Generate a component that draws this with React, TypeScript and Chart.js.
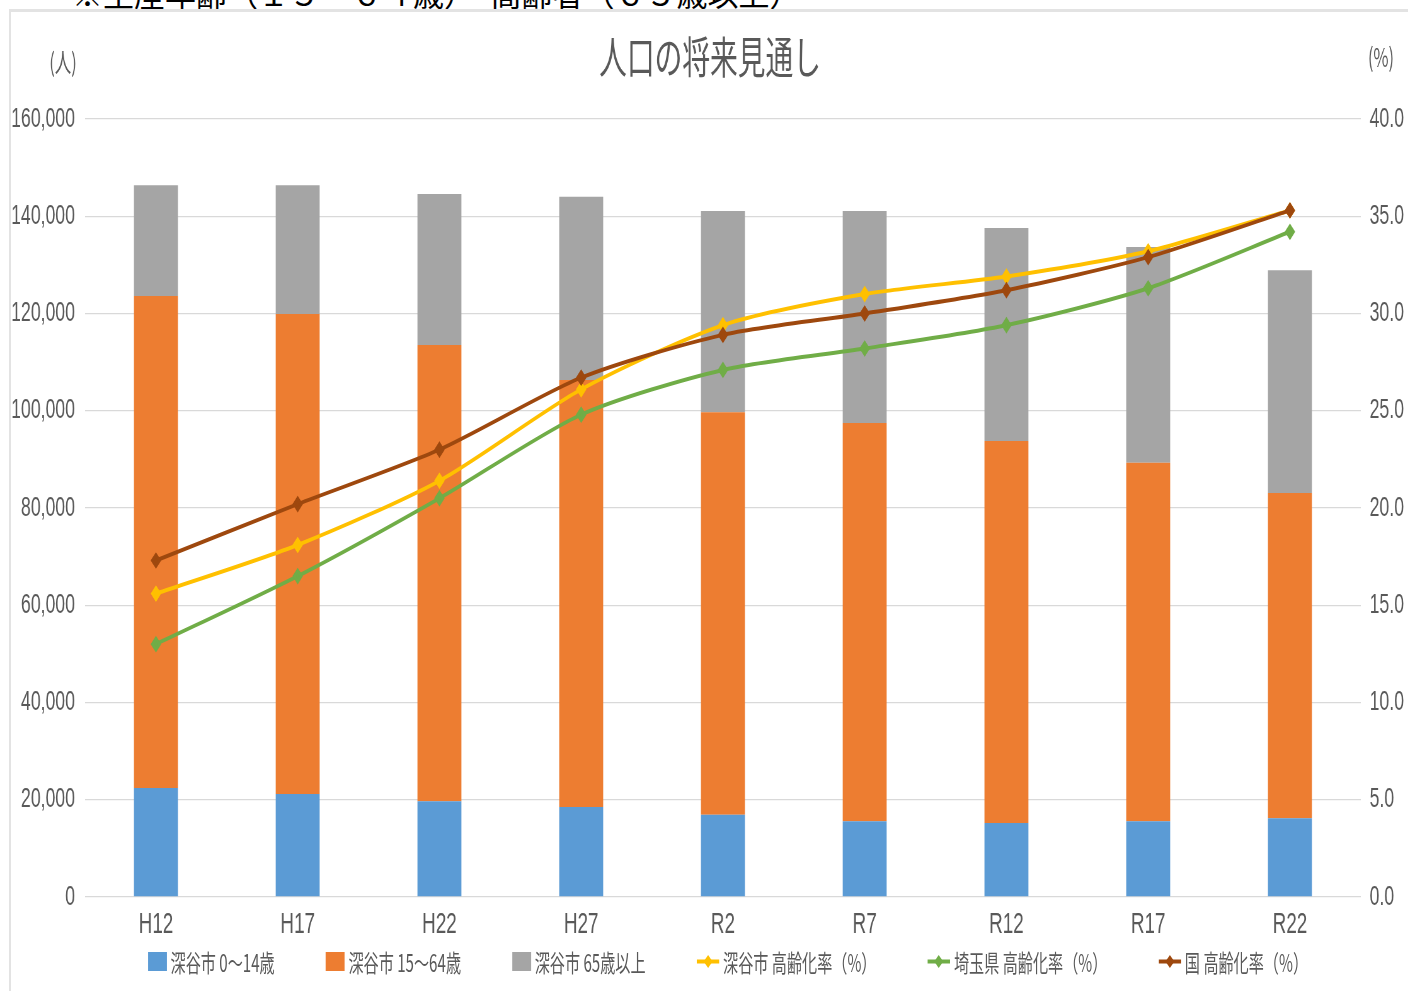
import React, { useEffect, useRef } from "react";
import { Chart, registerables } from "chart.js";

Chart.register(...registerables);

// ---- data ----
const categories = ["H12", "H17", "H22", "H27", "R2", "R7", "R12", "R17", "R22"];
const pop0to14 = [22400, 21200, 19700, 18500, 16900, 15600, 15200, 15600, 16200];
const pop15to64 = [101200, 98700, 93800, 87800, 82800, 81900, 78600, 73700, 66900];
const pop65plus = [22800, 26500, 31100, 37700, 41400, 43600, 43800, 44400, 45800];
const rateFukaya = [15.6, 18.1, 21.4, 26.1, 29.4, 31.0, 31.9, 33.2, 35.3];
const rateSaitama = [13.0, 16.5, 20.5, 24.8, 27.1, 28.2, 29.4, 31.3, 34.2];
const rateJapan = [17.3, 20.2, 23.0, 26.7, 28.9, 30.0, 31.2, 32.9, 35.3];
const seriesNames = [
  "深谷市 0〜14歳",
  "深谷市 15〜64歳",
  "深谷市 65歳以上",
  "深谷市 高齢化率（%）",
  "埼玉県 高齢化率（%）",
  "国 高齢化率（%）",
];
const seriesColors = ["#5B9BD5", "#ED7D31", "#A5A5A5", "#FFC000", "#70AD47", "#9E480E"];
const chartTitle = "人口の将来見通し";
const leftUnit = "(人)";
const rightUnit = "(%)";
const headerText = "※生産年齢（１５～６４歳）　高齢者（６５歳以上）";

// ---- layout ----
const SX = 0.63;
const PAGE_W = 1408;
const PAGE_H = 991;
const CW = Math.round(PAGE_W / SX);
const CH = 945;
const TEXT = "#595959";
const NUM_FONT = '"Liberation Sans", Arial, sans-serif';
const JP_FONT = '"Noto Sans CJK JP", "Noto Sans", sans-serif';

const annotPlugin = {
  id: "annot",
  afterDraw(chart: any) {
    const ctx = chart.ctx;
    ctx.save();
    ctx.fillStyle = TEXT;
    ctx.textAlign = "center";
    ctx.textBaseline = "middle";
    ctx.font = `44px ${JP_FONT}`;
    ctx.fillText(chartTitle, 710 / SX, 57);
    ctx.font = `26px ${JP_FONT}`;
    ctx.fillText(leftUnit, 63 / SX, 62);
    ctx.fillText(rightUnit, 1381 / SX, 57);
    ctx.restore();
  },
};

function LegendIcon({ idx }: { idx: number }) {
  const color = seriesColors[idx];
  if (idx < 3) {
    return <span style={{ display: "inline-block", width: 30, height: 19, background: color }} />;
  }
  return (
    <svg width={36} height={19} style={{ display: "block" }}>
      <line x1={0} y1={9.5} x2={36} y2={9.5} stroke={color} strokeWidth={4} />
      <polygon points="18,3 25,9.5 18,16 11,9.5" fill={color} />
    </svg>
  );
}

export default function App() {
  const canvasRef = useRef<HTMLCanvasElement | null>(null);

  useEffect(() => {
    if (!canvasRef.current) return;
    const lineDs = (i: number, data: number[], order: number) => ({
      type: "line" as const,
      label: seriesNames[i],
      data,
      borderColor: seriesColors[i],
      backgroundColor: seriesColors[i],
      borderWidth: 4,
      pointStyle: "rectRot",
      pointRadius: 5.5,
      pointHoverRadius: 5.5,
      tension: 0.25,
      yAxisID: "y1",
      order,
    });
    const barDs = (i: number, data: number[]) => ({
      type: "bar" as const,
      label: seriesNames[i],
      data,
      backgroundColor: seriesColors[i],
      borderWidth: 0,
      stack: "pop",
      yAxisID: "y",
      barPercentage: 0.31,
      categoryPercentage: 1,
      order: 5,
    });
    const chart = new Chart(canvasRef.current, {
      data: {
        labels: categories,
        datasets: [
          barDs(0, pop0to14),
          barDs(1, pop15to64),
          barDs(2, pop65plus),
          lineDs(3, rateFukaya, 2),
          lineDs(4, rateSaitama, 3),
          lineDs(5, rateJapan, 1),
        ] as any,
      },
      options: {
        responsive: false,
        animation: false,
        layout: { padding: { top: 119, left: 0, right: 0, bottom: 0 } },
        plugins: {
          legend: { display: false },
          tooltip: { enabled: false },
          title: { display: false },
        },
        scales: {
          x: {
            stacked: true,
            grid: { display: false },
            border: { display: false },
            ticks: { color: TEXT, font: { family: NUM_FONT, size: 30 }, padding: 2 },
            afterFit(s: any) {
              s.height = 48;
            },
          },
          y: {
            stacked: true,
            position: "left",
            min: 0,
            max: 160000,
            ticks: {
              stepSize: 20000,
              color: TEXT,
              font: { family: NUM_FONT, size: 28 },
              padding: 16,
              callback: (v: any) => Number(v).toLocaleString("en-US"),
            },
            grid: { color: "#d9d9d9", drawTicks: false, lineWidth: 1.3 },
            border: { display: false },
            afterFit(s: any) {
              s.width = 135;
            },
          },
          y1: {
            position: "right",
            min: 0,
            max: 40,
            ticks: {
              stepSize: 5,
              color: TEXT,
              font: { family: NUM_FONT, size: 28 },
              padding: 14,
              callback: (v: any) => Number(v).toFixed(1),
            },
            grid: { drawOnChartArea: false, drawTicks: false },
            border: { display: false },
            afterFit(s: any) {
              s.width = CW - Math.round(1361 / SX);
            },
          },
        },
      } as any,
      plugins: [annotPlugin],
    });
    return () => chart.destroy();
  }, []);

  return (
    <div
      style={{
        position: "fixed",
        left: 0,
        top: 0,
        width: PAGE_W,
        height: PAGE_H,
        background: "#fff",
        overflow: "hidden",
      }}
    >
      <div
        style={{
          position: "absolute",
          left: 72,
          top: -23,
          fontFamily: JP_FONT,
          fontSize: 31,
          lineHeight: "31px",
          color: "#000",
          whiteSpace: "nowrap",
        }}
      >
        {headerText}
      </div>
      <div
        style={{
          position: "absolute",
          left: 9,
          top: 9,
          width: PAGE_W + 20,
          height: PAGE_H + 20,
          borderLeft: "2px solid #e3e3e3",
          borderTop: "3px solid #e3e3e3",
        }}
      />
      <div
        style={{
          position: "absolute",
          left: 0,
          top: 0,
          width: CW,
          height: PAGE_H,
          transform: `scaleX(${SX})`,
          transformOrigin: "0 0",
        }}
      >
        <canvas ref={canvasRef} width={CW} height={CH} style={{ display: "block" }} />
        <div
          style={{
            position: "absolute",
            left: 0,
            top: 947,
            width: CW,
            height: 28,
            boxSizing: "border-box",
            paddingLeft: 76,
            display: "flex",
            justifyContent: "center",
            alignItems: "center",
            gap: 81,
            fontFamily: JP_FONT,
            fontSize: 24,
            color: TEXT,
            whiteSpace: "nowrap",
          }}
        >
          {seriesNames.map((n, i) => (
            <div key={n} style={{ display: "flex", alignItems: "center", gap: 6 }}>
              <LegendIcon idx={i} />
              <span>{n}</span>
            </div>
          ))}
        </div>
      </div>
    </div>
  );
}
